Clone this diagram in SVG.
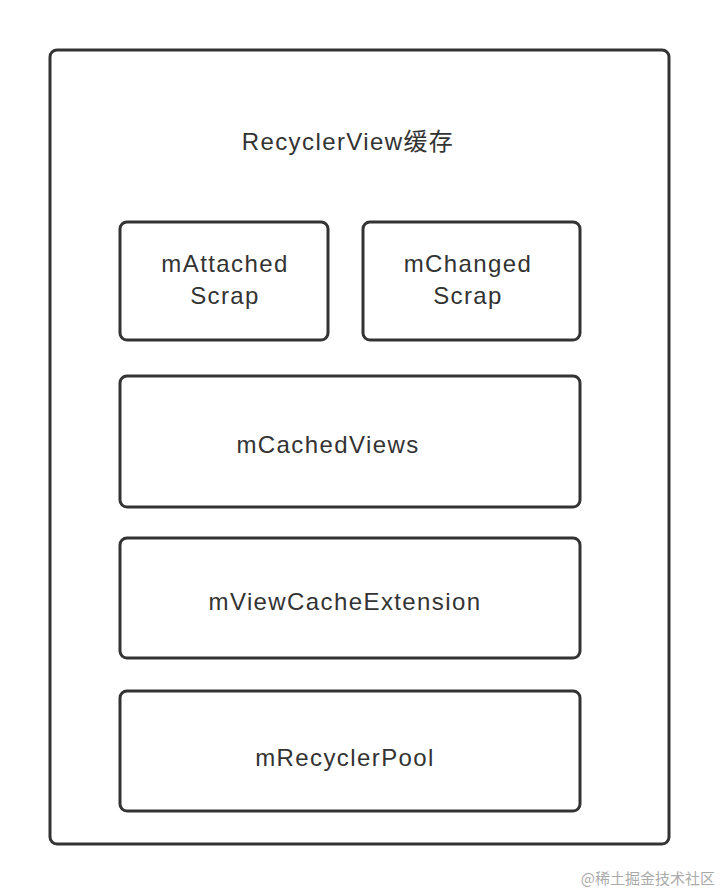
<svg xmlns="http://www.w3.org/2000/svg" width="720" height="894" viewBox="0 0 720 894">
<style>
.box{fill:#fff;stroke:#333;stroke-width:3}
.t{font-family:"Liberation Sans","Noto Sans CJK SC",sans-serif;font-size:24px;fill:#333;text-anchor:middle;letter-spacing:1.4px}
.wm{font-family:"Noto Sans CJK SC",sans-serif;font-size:15px;fill:#aaa;text-anchor:end}
</style>
<rect width="720" height="894" fill="#fff"/>
<g id="outer">
<rect class="box" x="50" y="50" width="619" height="794" rx="7"/>
<text class="t" x="348" y="150">RecyclerView缓存</text>
</g>
<g id="mAttachedScrap">
<rect class="box" x="120" y="222" width="208" height="118" rx="7"/>
<text class="t" x="225" y="272">mAttached</text>
<text class="t" x="225" y="304">Scrap</text>
</g>
<g id="mChangedScrap">
<rect class="box" x="363" y="222" width="217" height="118" rx="7"/>
<text class="t" x="468" y="272">mChanged</text>
<text class="t" x="468" y="304">Scrap</text>
</g>
<g id="mCachedViews">
<rect class="box" x="120" y="376" width="460" height="131" rx="7"/>
<text class="t" x="328" y="453">mCachedViews</text>
</g>
<g id="mViewCacheExtension">
<rect class="box" x="120" y="538" width="460" height="120" rx="7"/>
<text class="t" x="345" y="610">mViewCacheExtension</text>
</g>
<g id="mRecyclerPool">
<rect class="box" x="120" y="691" width="460" height="120" rx="7"/>
<text class="t" x="345" y="766">mRecyclerPool</text>
</g>
<g id="connectors"></g>
<text class="wm" x="715" y="884">@稀土掘金技术社区</text>
</svg>
